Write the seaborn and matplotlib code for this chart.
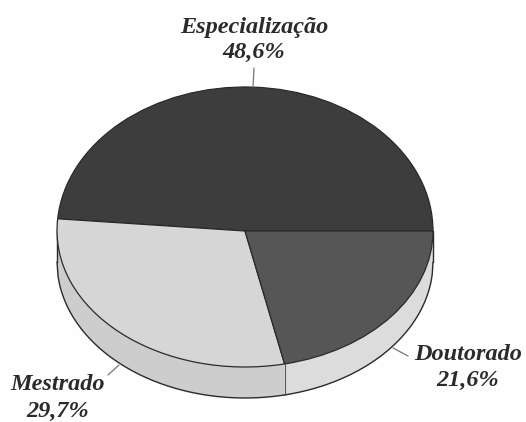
import numpy as np
import matplotlib
matplotlib.use("Agg")
import matplotlib.pyplot as plt
import seaborn as sns

categories = ["Especialização", "Mestrado", "Doutorado"]
shares = [48.6, 29.7, 21.6]
share_labels = ["48,6%", "29,7%", "21,6%"]
face_colors = ["#3d3d3d", "#d6d6d6", "#565656"]
wall_colors = ["#3d3d3d", "#cdcdcd", "#dcdcdc"]

sns.set_theme(style="white")
plt.rcParams["font.family"] = ["Liberation Serif", "DejaVu Serif"]

W, H = 526, 422
CX, CY, RX, UP, DOWN, DEPTH = 245, 231, 188, 144, 136, 31
INK = "#2a2a2a"
PAPER = "#fefefe"


def fwd(y):
    y = np.asarray(y, dtype=float)
    return np.where(y >= 0, y * UP, y * DOWN)


def inv(v):
    v = np.asarray(v, dtype=float)
    return np.where(v >= 0, v / UP, v / DOWN)


fig = plt.figure(figsize=(W / 100, H / 100), dpi=100, facecolor=PAPER)
ax = fig.add_axes([0, 0, 1, 1], facecolor=PAPER)

wedges, _ = ax.pie(shares, colors=face_colors, startangle=0, counterclock=True,
                   normalize=True, wedgeprops=dict(edgecolor=INK, linewidth=0.9, zorder=3))

# extruded rim, split where the Mestrado / Doutorado boundary meets the edge
frac = np.cumsum(shares) / np.sum(shares)
split_angle = 2 * np.pi * frac[1]
split_x = np.cos(split_angle)
depth = DEPTH / DOWN
for lo, hi, col in [(-1.0, split_x, wall_colors[1]), (split_x, 1.0, wall_colors[2])]:
    xs = np.linspace(lo, hi, 200)
    rim = -np.sqrt(np.clip(1 - xs ** 2, 0, None))
    ax.fill_between(xs, rim, rim - depth, facecolor=col, edgecolor="none", zorder=1)
    ax.plot(xs, rim - depth, color=INK, lw=1.0, zorder=2)
rim_b = -np.sqrt(1 - split_x ** 2)
ax.plot([split_x, split_x], [rim_b, rim_b - depth], color="#555555", lw=0.8, zorder=2)
for side in (-1.0, 1.0):
    ax.plot([side, side], [0, -depth], color=INK, lw=1.0, zorder=2)

ax.set_yscale("function", functions=(fwd, inv))
ax.set_aspect("auto")
ax.set_xlim(-CX / RX, (W - CX) / RX)
ax.set_ylim(-(H - CY) / DOWN, CY / UP)
ax.axis("off")


def pos(x, y):
    return x / W, 1 - y / H


text_style = dict(transform=ax.transAxes, ha="center", va="center", fontsize=17.5,
                  fontweight="bold", fontstyle="italic", color="#2b2b2b")
label_pos = {0: (254, 27, 52), 1: (58, 385, 411), 2: (468, 354, 380)}
for i, (cx, y1, y2) in label_pos.items():
    ax.text(*pos(cx, y1), categories[i], **text_style)
    ax.text(*pos(cx, y2), share_labels[i], **text_style)

leaders = [((254, 68), (253, 87)), ((108, 375), (119, 365)), ((408, 356), (393, 348))]
for a, b in leaders:
    ax.annotate("", xy=pos(*b), xytext=pos(*a), xycoords="axes fraction",
                textcoords="axes fraction",
                arrowprops=dict(arrowstyle="-", color="#777777", lw=0.9, shrinkA=0, shrinkB=0))

fig.savefig("out.png", dpi=100, facecolor=PAPER)
